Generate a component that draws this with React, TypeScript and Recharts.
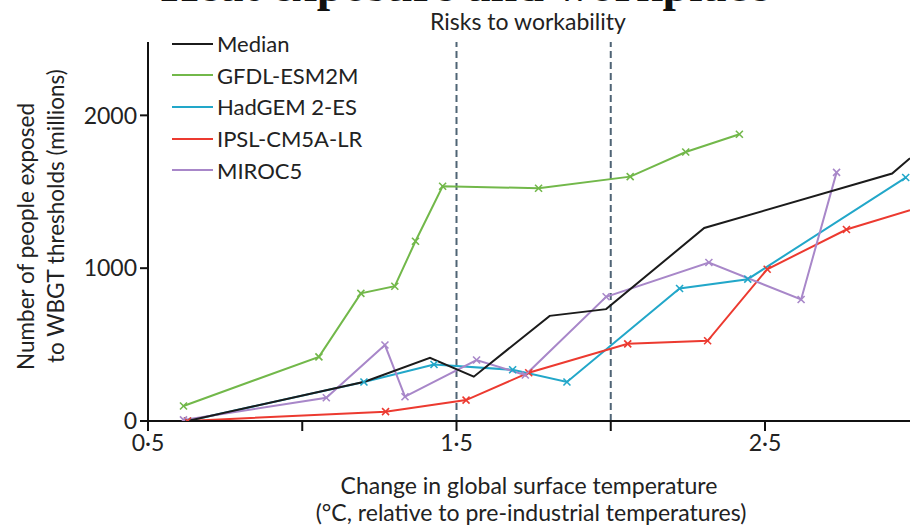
import { LineChart, Line, XAxis, YAxis, ReferenceLine } from 'recharts'

const xTicks = [0.5, 1, 1.5, 2, 2.5]
const xTickLabels = ['0·5', '', '1·5', '', '2·5']
const yTicks = [0, 1000, 2000]
const workabilityBounds = [1.5, 2]

const medianTemp = [0.628, 1.202, 1.414, 1.556, 1.802, 1.985, 2.303, 2.912, 2.97]
const medianPeople = [0, 257, 414, 290, 688, 732, 1263, 1619, 1720]

const gfdlTemp = [0.615, 1.054, 1.19, 1.3, 1.367, 1.455, 1.766, 2.063, 2.243, 2.417]
const gfdlPeople = [98, 420, 835, 882, 1176, 1536, 1523, 1599, 1760, 1876]

const hadgemTemp = [0.628, 1.2, 1.427, 1.682, 1.858, 2.223, 2.444, 2.956]
const hadgemPeople = [0, 255, 370, 335, 255, 867, 928, 1593]

const ipslTemp = [0.628, 1.27, 1.531, 1.734, 2.055, 2.314, 2.507, 2.764, 2.97]
const ipslPeople = [0, 61, 137, 316, 505, 525, 993, 1253, 1380]

const mirocTemp = [0.615, 1.078, 1.268, 1.333, 1.565, 1.723, 1.985, 2.318, 2.617, 2.732]
const mirocPeople = [7, 152, 497, 159, 399, 301, 813, 1037, 795, 1627]

const zip = (xs: number[], ys: number[]) => xs.map((x, i) => ({ x, y: ys[i] }))

const series = [
  { name: 'Median', color: '#1b1b1b', data: zip(medianTemp, medianPeople), marks: false },
  { name: 'GFDL-ESM2M', color: '#72b84a', data: zip(gfdlTemp, gfdlPeople), marks: true },
  { name: 'HadGEM 2-ES', color: '#22a7c9', data: zip(hadgemTemp, hadgemPeople), marks: true },
  { name: 'IPSL-CM5A-LR', color: '#ec3a30', data: zip(ipslTemp, ipslPeople), marks: true },
  { name: 'MIROC5', color: '#a887c9', data: zip(mirocTemp, mirocPeople), marks: true },
]

const font = 'Lato, "Open Sans", sans-serif'

// small "x" marker, skipped where a line runs off the right edge
function XMark(props: any) {
  const { cx, cy, stroke, payload } = props
  const k = `${cx}-${cy}`
  if (cx == null || cy == null || payload.x > 2.96) return <g key={k} />
  const s = 3.5
  return (
    <g key={k} stroke={stroke} strokeWidth={1.6}>
      <line x1={cx - s} y1={cy - s} x2={cx + s} y2={cy + s} />
      <line x1={cx - s} y1={cy + s} x2={cx + s} y2={cy - s} />
    </g>
  )
}

function LegendBox() {
  return (
    <div style={{ position: 'absolute', left: 172, top: 28, fontFamily: font, fontSize: 22, color: '#222' }}>
      {series.map((s) => (
        <div key={s.name} style={{ display: 'flex', alignItems: 'center', height: 31.6 }}>
          <span style={{ display: 'inline-block', width: 41, height: 2, background: s.color, marginRight: 4 }} />
          <span>{s.name}</span>
        </div>
      ))}
    </div>
  )
}

export default function App() {
  const drawOrder = [...series.slice(1), series[0]]
  return (
    <div style={{ position: 'absolute', left: 0, top: 0, width: 910, height: 527, overflow: 'hidden', background: '#fff' }}>
      <LineChart width={910} height={527} margin={{ top: 42, right: 0, bottom: 0, left: 0 }}>
        <XAxis
          type="number"
          dataKey="x"
          domain={[0.5, 2.97]}
          allowDataOverflow
          ticks={xTicks}
          tickFormatter={(v: number) => xTickLabels[xTicks.indexOf(v)] ?? ''}
          height={106}
          tickSize={10}
          tickMargin={4}
          stroke="#111"
          strokeWidth={2}
          tick={{ fill: '#222', fontSize: 23, fontFamily: font }}
        />
        <YAxis
          type="number"
          dataKey="y"
          domain={[0, 2480]}
          allowDataOverflow
          ticks={yTicks}
          width={148}
          tickSize={8}
          tickMargin={3}
          stroke="#111"
          strokeWidth={2}
          tick={{ fill: '#222', fontSize: 23, fontFamily: font }}
        />
        {workabilityBounds.map((b) => (
          <ReferenceLine key={b} x={b} stroke="#4f6475" strokeWidth={2} strokeDasharray="7 4" />
        ))}
        {drawOrder.map((s) => (
          <Line
            key={s.name}
            data={s.data}
            dataKey="y"
            name={s.name}
            type="linear"
            stroke={s.color}
            strokeWidth={2}
            dot={s.marks ? XMark : false}
            activeDot={false}
            isAnimationActive={false}
          />
        ))}
      </LineChart>
      <LegendBox />
      <svg width={910} height={527} style={{ position: 'absolute', left: 0, top: 0, pointerEvents: 'none' }}>
        <text x={465} y={1} textAnchor="middle" fontFamily='"Liberation Serif", serif' fontWeight="bold" fontSize={48} fill="#111">
          Heat exposure and workplace
        </text>
        <text x={528} y={30} textAnchor="middle" fontFamily={font} fontSize={23} fill="#222">
          Risks to workability
        </text>
        <text transform="translate(34, 370) rotate(-90)" textAnchor="start" fontFamily={font} fontSize={22.5} fill="#222">
          Number of people exposed
        </text>
        <text transform="translate(64, 363) rotate(-90)" textAnchor="start" fontFamily={font} fontSize={22.5} fill="#222">
          to WBGT thresholds (millions)
        </text>
        <text x={529} y={494} textAnchor="middle" fontFamily={font} fontSize={23} fill="#222">
          Change in global surface temperature
        </text>
        <text x={531} y={521} textAnchor="middle" fontFamily={font} fontSize={23} fill="#222">
          (°C, relative to pre-industrial temperatures)
        </text>
      </svg>
    </div>
  )
}
